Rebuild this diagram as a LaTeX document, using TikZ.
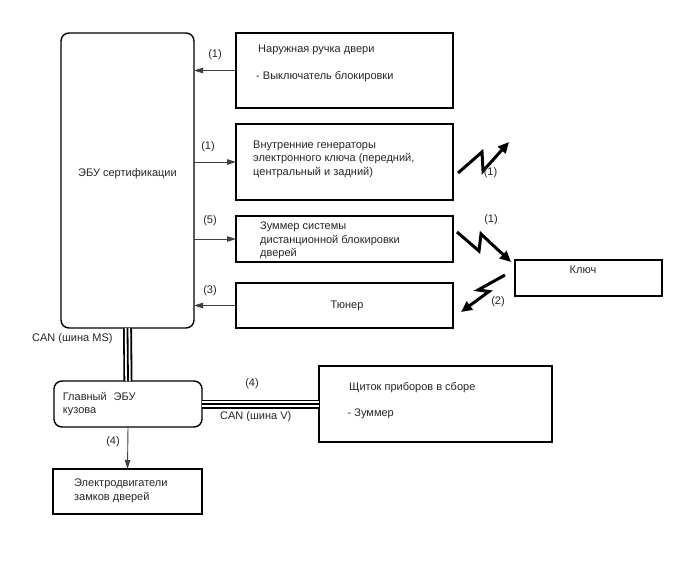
\documentclass[tikz,border=0pt]{standalone}
\usepackage{fontspec}
\setmainfont{Liberation Sans}
\usetikzlibrary{arrows.meta}
\begin{document}
\begin{tikzpicture}[x=1pt,y=-1pt,
  font=\fontsize{11}{13.5}\selectfont,
  box/.style={draw=black, line width=1.4pt, inner sep=0pt, outer sep=0pt, anchor=north west},
  rbox/.style={box, rounded corners=8pt},
  txt/.style={anchor=base west, inner sep=0pt, text=black!85},
  lbl/.style={anchor=center, inner sep=0pt, text=black!85},
  conn/.style={draw=black!75, line width=0.9pt, -{Triangle[length=9pt,width=5.5pt]}},
  bolt/.style={draw=black, line width=3pt, line join=miter, -{Triangle[length=11pt,width=10pt]}},
  busA/.style={draw=black, line width=9pt},
  busB/.style={draw=white, line width=5.4pt},
  busC/.style={draw=black, line width=1.8pt}
]
\useasboundingbox (0,0) rectangle (688,560);
\fill[white] (0,0) rectangle (688,560);

% boxes
\node[rbox, minimum width=133pt, minimum height=295pt] (ecu) at (61,33) {};
\node[box, minimum width=217pt, minimum height=75pt] (handle) at (236,33) {};
\node[box, minimum width=217pt, minimum height=76pt] (gen) at (236,124) {};
\node[box, minimum width=217pt, minimum height=46pt] (buzz) at (236,216) {};
\node[box, minimum width=217pt, minimum height=45pt] (tuner) at (236,283) {};
\node[box, minimum width=147pt, minimum height=36pt] (key) at (515,260) {};
\node[rbox, minimum width=148pt, minimum height=46pt] (body) at (54,381) {};
\node[box, minimum width=149pt, minimum height=45pt] (motors) at (53,469) {};
\node[box, minimum width=233pt, minimum height=76pt] (cluster) at (319,366) {};

% texts
\node[lbl] (tecu) at (127.5,174) {ЭБУ сертификации};
\node[txt] (th1) at (258,52) {Наружная ручка двери};
\node[txt] (th2) at (256,79) {- Выключатель блокировки};
\node[txt] (tg1) at (253,148) {Внутренние генераторы};
\node[txt] (tg2) at (253,161.7) {электронного ключа (передний,};
\node[txt] (tg3) at (253,175.4) {центральный и задний)};
\node[txt] (tb1) at (260,229.7) {Зуммер системы};
\node[txt] (tb2) at (260,243) {дистанционной блокировки};
\node[txt] (tb3) at (260,256) {дверей};
\node[lbl] (tt) at (347,306) {Тюнер};
\node[lbl] (tk) at (583,270) {Ключ};
\node[txt] (tbo1) at (62.7,400.7) {Главный\hspace{7pt}ЭБУ};
\node[txt] (tbo2) at (62.7,413.5) {кузова};
\node[txt] (tm1) at (74,486.7) {Электродвигатели};
\node[txt] (tm2) at (74,500) {замков дверей};
\node[txt] (tc1) at (349,390.7) {Щиток приборов в сборе};
\node[txt] (tc2) at (347.5,416.7) {- Зуммер};
\node[txt] (tcanms) at (32,341.3) {CAN (шина MS)};
\node[txt] (tcanv) at (220,419.3) {CAN (шина V)};

% connectors
\draw[conn] (handle.west) -- (handle.west -| ecu.east);
\draw[conn] (gen.west -| ecu.east) -- (gen.west);
\draw[conn] (buzz.west -| ecu.east) -- (buzz.west);
\draw[conn] (tuner.west) -- (tuner.west -| ecu.east);
\draw[conn] (body.south) -- (motors.north);

\node[lbl] (l1) at (215,55) {(1)};
\node[lbl] (l2) at (208,147) {(1)};
\node[lbl] (l3) at (210,221) {(5)};
\node[lbl] (l4) at (210,291) {(3)};
\node[lbl] (l5) at (113,442) {(4)};
\node[lbl] (l6) at (252,383.5) {(4)};

% buses
\foreach \s in {busA,busB,busC} {
  \draw[\s] (ecu.south) -- (body.north);
  \draw[\s] (body.east) -- (cluster.west);
}

% lightning bolts
\coordinate (b1s) at (458,173);
\coordinate (b1e) at (509,142);
\draw[bolt] (b1s) -- (482,152) -- (483,171) -- (b1e);
\node[lbl] (lb1) at (490.5,173) {(1)};

\coordinate (b2s) at (457,232);
\coordinate (b2e) at (511,262);
\draw[bolt] (b2s) -- (479,251) -- (481,234) -- (b2e);
\node[lbl] (lb2) at (491,220) {(1)};

\coordinate (b3s) at (505,275);
\coordinate (b3e) at (461,312);
\draw[bolt] (b3s) -- (478,290) -- (489,291.5) -- (b3e);
\node[lbl] (lb3) at (498,302) {(2)};
\end{tikzpicture}
\end{document}
